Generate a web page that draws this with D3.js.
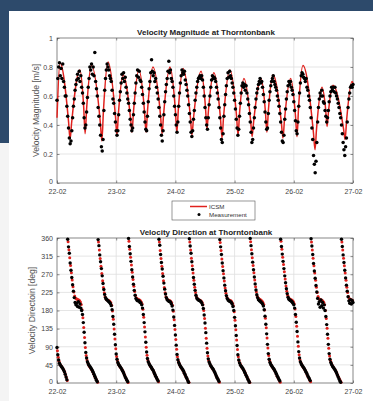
<!DOCTYPE html>
<html>
<head>
<meta charset="utf-8">
<script src="https://cdn.jsdelivr.net/npm/d3@7"></script>
<style>
  html, body { margin: 0; padding: 0; background: #fff; }
  svg { display: block; font-family: "Liberation Sans", Arial, sans-serif; }
</style>
</head>
<body>
<div id="chart"></div>
<script>
// x axis: hours since 22-02 00:00
const dayHours = [0, 24, 48, 72, 96, 120];
const dayLabels = ['22-02', '23-02', '24-02', '25-02', '26-02', '27-02'];
const magTicks = [0, 0.2, 0.4, 0.6, 0.8, 1];
const dirTicks = [0, 45, 90, 135, 180, 225, 270, 315, 360];
const sampleStep = 1 / 3; // 20 min between samples

// ICSM velocity magnitude [hour, m/s]
const icsmMag = [
  [0, 0.45], [1.2, 0.83],
  [4.7, 0.42], [5.3, 0.30], [5.9, 0.41], [9.3, 0.78],
  [10.8, 0.53], [11.4, 0.34], [12.0, 0.51], [14.0, 0.81],
  [17.6, 0.41], [18.2, 0.29], [18.8, 0.49], [20.7, 0.835],
  [23.7, 0.46], [24.3, 0.33], [24.9, 0.48], [26.8, 0.745],
  [29.8, 0.45], [30.4, 0.35], [31.0, 0.49], [33.2, 0.78],
  [35.5, 0.49], [36.1, 0.35], [36.7, 0.50], [38.9, 0.80],
  [42.0, 0.46], [42.6, 0.34], [43.2, 0.47], [45.8, 0.80],
  [48.0, 0.50], [48.6, 0.35], [49.2, 0.51], [51.1, 0.79],
  [54.1, 0.45], [54.7, 0.33], [55.3, 0.44], [58.4, 0.77],
  [60.2, 0.52], [60.8, 0.37], [61.4, 0.50], [63.6, 0.76],
  [66.3, 0.44], [66.9, 0.31], [67.5, 0.45], [70.1, 0.78],
  [72.8, 0.46], [73.4, 0.33], [74.0, 0.48], [75.8, 0.72],
  [78.5, 0.43], [79.1, 0.32], [79.7, 0.42], [82.7, 0.72],
  [84.5, 0.49], [85.1, 0.35], [85.7, 0.50], [87.6, 0.745],
  [91.0, 0.41], [91.6, 0.31], [92.2, 0.43], [94.7, 0.72],
  [96.7, 0.46], [97.3, 0.32], [97.9, 0.51], [99.7, 0.81],
  [104.0, 0.34], [104.6, 0.23], [105.2, 0.37], [107.4, 0.66],
  [108.9, 0.51], [109.5, 0.39], [110.1, 0.50], [111.9, 0.675],
  [116.2, 0.37], [116.8, 0.30], [117.4, 0.43], [119.6, 0.70],
  [120, 0.69]
];

// measured velocity magnitude, every 20 min from 22-02 00:00 [m/s]
const measMag = [
  0.57,0.72,0.80,0.83,0.74,0.79,0.72,0.82,0.70,0.66,
  0.60,0.60,0.53,0.46,0.38,0.31,0.27,0.29,0.36,0.45,
  0.53,0.58,0.64,0.68,0.71,0.75,0.72,0.77,0.70,0.74,
  0.66,0.62,0.55,0.45,0.38,0.40,0.49,0.59,0.66,0.72,
  0.80,0.78,0.82,0.75,0.80,0.74,0.90,0.70,0.65,0.60,
  0.52,0.46,0.40,0.33,0.25,0.22,0.30,0.50,0.64,0.72,
  0.78,0.82,0.80,0.78,0.74,0.72,0.70,0.64,0.58,0.55,
  0.48,0.42,0.36,0.33,0.36,0.47,0.57,0.63,0.69,0.75,
  0.72,0.76,0.70,0.73,0.66,0.62,0.58,0.55,0.50,0.44,
  0.40,0.36,0.38,0.47,0.55,0.62,0.69,0.74,0.78,0.73,
  0.77,0.71,0.70,0.66,0.61,0.55,0.49,0.42,0.37,0.36,
  0.46,0.56,0.65,0.70,0.76,0.85,0.77,0.74,0.76,0.70,
  0.72,0.66,0.62,0.58,0.52,0.46,0.40,0.33,0.29,0.36,
  0.47,0.56,0.63,0.68,0.72,0.77,0.84,0.76,0.78,0.72,
  0.70,0.66,0.60,0.53,0.47,0.40,0.35,0.42,0.53,0.62,
  0.69,0.74,0.78,0.76,0.75,0.77,0.71,0.68,0.64,0.60,
  0.54,0.48,0.42,0.35,0.32,0.36,0.44,0.50,0.57,0.62,
  0.66,0.70,0.72,0.73,0.74,0.72,0.74,0.71,0.66,0.60,
  0.52,0.45,0.40,0.37,0.45,0.54,0.60,0.66,0.71,0.74,
  0.72,0.73,0.72,0.70,0.66,0.62,0.58,0.52,0.45,0.38,
  0.30,0.28,0.34,0.46,0.54,0.61,0.67,0.72,0.76,0.73,
  0.77,0.74,0.72,0.69,0.66,0.62,0.57,0.51,0.44,0.38,
  0.33,0.37,0.46,0.55,0.62,0.67,0.69,0.66,0.68,0.64,
  0.67,0.62,0.58,0.54,0.48,0.42,0.35,0.28,0.30,0.38,
  0.45,0.52,0.58,0.62,0.65,0.68,0.70,0.72,0.69,0.70,
  0.66,0.61,0.56,0.49,0.42,0.37,0.38,0.48,0.57,0.63,
  0.67,0.70,0.72,0.74,0.70,0.68,0.66,0.64,0.60,0.57,
  0.53,0.48,0.42,0.35,0.29,0.28,0.33,0.44,0.51,0.58,
  0.63,0.67,0.70,0.68,0.70,0.66,0.64,0.61,0.56,0.50,
  0.43,0.36,0.34,0.42,0.53,0.62,0.69,0.74,0.76,0.75,
  0.73,0.72,0.70,0.72,0.66,0.64,0.60,0.57,0.52,0.45,
  0.38,0.30,0.19,0.13,0.07,0.15,0.28,0.42,0.52,0.58,
  0.62,0.60,0.64,0.60,0.56,0.55,0.50,0.46,0.42,0.45,
  0.50,0.56,0.60,0.63,0.66,0.64,0.66,0.63,0.66,0.62,
  0.60,0.58,0.55,0.52,0.48,0.45,0.40,0.34,0.28,0.23,
  0.19,0.25,0.31,0.42,0.52,0.58,0.62,0.66,0.67,0.66,0.68
];

// measured direction, every 20 min from 22-02 00:00 [deg]
const measDir = [
  88,70,57,49,45,42,39,36,32,28,22,15,8,
  357,338,322,298,280,262,244,228,212,200,194,198,190,202,188,196,186,180,170,150,126,100,76,62,53,48,44,41,38,35,31,27,22,17,12,7,3,
  356,341,318,301,284,266,247,232,220,212,208,206,204,202,200,197,192,182,165,146,121,95,72,59,51,46,43,40,37,33,29,25,20,15,11,7,3,
  359,339,321,302,281,263,245,230,218,210,206,204,205,203,200,199,194,186,170,150,127,101,77,61,53,48,44,41,38,34,31,26,22,17,13,9,5,
  357,342,319,299,283,265,248,233,221,212,207,205,203,202,201,197,191,181,164,143,119,94,71,58,51,46,42,39,36,33,29,24,20,15,11,6,2,
  358,340,322,301,282,262,245,230,218,211,208,206,205,204,202,199,194,185,169,149,125,99,75,60,52,47,43,40,37,34,30,26,21,16,12,8,4,
  356,338,319,298,279,261,243,229,217,210,206,204,203,202,200,196,190,180,163,142,118,93,70,57,50,45,42,39,36,32,28,24,19,15,10,6,2,
  359,341,321,300,281,263,246,231,219,212,207,205,203,201,199,196,191,182,166,146,122,96,73,59,51,46,43,40,37,34,30,26,22,17,13,9,5,
  357,339,320,302,284,266,249,234,222,213,208,206,205,203,201,198,194,186,170,151,128,102,78,62,53,48,44,41,38,35,31,27,23,18,14,10,6,
  358,340,319,297,278,260,242,226,210,196,202,188,206,192,200,186,194,180,165,145,121,96,73,59,51,46,42,39,36,33,29,25,20,15,10,5,2,
  357,339,318,299,280,261,243,228,214,204,198,207,196,205,200
];

// ICSM direction, every 20 min from 22-02 00:10 [deg]
const icsmDir = [
  80,64,54,47,44,41,38,35,31,26,20,13,6,
  351,331,311,292,274,256,239,226,216,211,209,208,207,206,204,201,195,182,162,138,113,88,68,57,50,45,41,38,35,32,28,23,18,14,10,6,2,
  350,330,309,290,272,254,237,224,214,209,207,206,205,204,202,199,193,179,158,134,109,85,66,55,49,44,41,38,35,32,28,23,18,13,9,5,1,
  352,332,312,293,275,257,240,227,217,211,209,208,207,206,204,201,196,183,163,139,114,89,69,57,51,46,42,39,36,33,29,24,19,15,11,7,3,
  350,329,309,290,272,254,237,224,214,209,207,206,205,204,202,199,193,178,157,133,108,84,65,55,49,44,40,37,34,31,27,22,17,13,9,5,1,
  350,330,310,291,273,255,238,225,215,210,208,207,206,205,203,200,194,180,160,136,111,86,67,56,50,45,41,38,35,32,28,23,18,14,10,6,2,
  349,329,308,289,271,253,236,223,214,209,207,206,205,204,202,198,192,177,156,132,107,83,65,55,49,44,40,37,34,31,27,22,17,13,9,5,1,
  351,331,311,292,274,256,239,226,216,211,209,208,207,205,203,200,195,181,161,137,112,87,68,56,50,45,41,38,35,32,28,23,18,14,10,6,2,
  352,332,312,294,276,258,241,228,218,212,210,208,207,206,204,202,197,184,165,141,116,91,70,58,51,46,42,39,36,33,29,24,19,15,11,7,3,
  350,330,310,291,273,255,238,225,215,210,208,207,206,205,203,200,194,180,160,136,111,86,67,56,50,45,41,38,35,32,28,23,18,14,10,6,2,
  350,330,310,291,273,255,238,225,215,210,208,207,206,205
];

const W = 373, H = 401;
const red = '#e0211d';

const svg = d3.select('#chart').append('svg')
  .attr('width', W)
  .attr('height', H);

// slide background
svg.append('rect').attr('width', W).attr('height', H).attr('fill', '#fff');
svg.append('rect').attr('width', W).attr('height', 11).attr('fill', '#2d4a6b');
svg.append('rect').attr('width', 9).attr('height', 143).attr('fill', '#2d4a6b');
svg.append('rect').attr('y', 143).attr('width', 9).attr('height', H - 143).attr('fill', '#f4f4f4');

const x = d3.scaleLinear().domain([0, 120]).range([57, 353]);

function panel(top, bottom, domain, ticks, title, ylabel, ylabelX) {
  const y = d3.scaleLinear().domain(domain).range([bottom, top]);
  const g = svg.append('g');
  const left = x.range()[0], right = x.range()[1];

  g.append('rect')
    .attr('x', left).attr('y', top)
    .attr('width', right - left).attr('height', bottom - top)
    .attr('fill', '#fff');

  // grid
  g.append('g').selectAll('line').data(ticks.slice(1, -1)).enter().append('line')
    .attr('x1', left).attr('x2', right)
    .attr('y1', d => y(d)).attr('y2', d => y(d))
    .attr('stroke', '#dedede').attr('stroke-width', 0.8);
  g.append('g').selectAll('line').data(dayHours.slice(1, -1)).enter().append('line')
    .attr('y1', top).attr('y2', bottom)
    .attr('x1', d => x(d)).attr('x2', d => x(d))
    .attr('stroke', '#dedede').attr('stroke-width', 0.8);

  // axes, ticks pointing inside
  const xAxis = g.append('g')
    .attr('transform', `translate(0,${bottom})`)
    .call(d3.axisBottom(x).tickValues(dayHours).tickSize(-2.5).tickPadding(6)
      .tickFormat((d, i) => dayLabels[i]));
  const yAxis = g.append('g')
    .attr('transform', `translate(${left},0)`)
    .call(d3.axisLeft(y).tickValues(ticks).tickSize(-2.5).tickPadding(4)
      .tickFormat(d3.format('')));
  g.append('g')
    .attr('transform', `translate(${right},0)`)
    .call(d3.axisRight(y).tickValues(ticks).tickSize(-2.5).tickFormat(''));
  g.append('g')
    .attr('transform', `translate(0,${top})`)
    .call(d3.axisTop(x).tickValues(dayHours).tickSize(-2.5).tickFormat(''));

  g.selectAll('.domain').remove();
  g.selectAll('.tick line').attr('stroke', '#444').attr('stroke-width', 0.6);
  [xAxis, yAxis].forEach(a => a.selectAll('text')
    .attr('fill', '#444').attr('font-size', 7)
    .attr('font-family', '"Liberation Sans", Arial, sans-serif'));
  // lift the lowest y label a little so it clears the date labels
  yAxis.selectAll('.tick text').filter(d => d === domain[0]).attr('dy', '0.1em');

  g.append('rect')
    .attr('x', left).attr('y', top)
    .attr('width', right - left).attr('height', bottom - top)
    .attr('fill', 'none').attr('stroke', '#555').attr('stroke-width', 0.7);

  g.append('text')
    .attr('x', (left + right) / 2 + 1).attr('y', top - 3)
    .attr('text-anchor', 'middle')
    .attr('font-size', 8).attr('font-weight', 'bold').attr('fill', '#222')
    .text(title);

  g.append('text')
    .attr('transform', `translate(${ylabelX},${(top + bottom) / 2}) rotate(-90)`)
    .attr('text-anchor', 'middle')
    .attr('font-size', 8.6).attr('fill', '#555')
    .text(ylabel);

  const plot = svg.append('g');
  return { y, plot };
}

// top panel: magnitude
const mag = panel(38, 183, [0, 1], magTicks, 'Velocity Magnitude at Thorntonbank',
  'Velocity Magnitude [m/s]', 39);

mag.plot.append('path')
  .datum(icsmMag)
  .attr('fill', 'none')
  .attr('stroke', red)
  .attr('stroke-width', 1.5)
  .attr('d', d3.line()
    .curve(d3.curveMonotoneX)
    .x(d => x(d[0]))
    .y(d => mag.y(d[1])));

mag.plot.selectAll('circle').data(measMag).enter().append('circle')
  .attr('cx', (d, i) => x(i * sampleStep))
  .attr('cy', d => mag.y(d))
  .attr('r', 1.75)
  .attr('fill', '#000');

// legend
const lg = svg.append('g');
lg.append('rect').attr('x', 172).attr('y', 201).attr('width', 83).attr('height', 19)
  .attr('fill', '#fff').attr('stroke', '#555').attr('stroke-width', 0.6);
lg.append('line').attr('x1', 190).attr('x2', 207).attr('y1', 206.5).attr('y2', 206.5)
  .attr('stroke', red).attr('stroke-width', 1.5);
lg.append('circle').attr('cx', 199).attr('cy', 214.5).attr('r', 1.5).attr('fill', '#000');
lg.append('text').attr('x', 209).attr('y', 209).attr('font-size', 6.2).attr('fill', '#333').text('ICSM');
lg.append('text').attr('x', 209).attr('y', 217).attr('font-size', 6.2).attr('fill', '#333').text('Measurement');

// bottom panel: direction
const dir = panel(238, 383, [0, 360], dirTicks, 'Velocity Direction at Thorntonbank',
  'Velocity Directoin [deg]', 35);

dir.plot.append('g').selectAll('circle').data(icsmDir).enter().append('circle')
  .attr('cx', (d, i) => x((i + 0.5) * sampleStep))
  .attr('cy', d => dir.y(d))
  .attr('r', 1.5)
  .attr('fill', red);

dir.plot.append('g').selectAll('circle').data(measDir).enter().append('circle')
  .attr('cx', (d, i) => x(i * sampleStep))
  .attr('cy', d => dir.y(d))
  .attr('r', 1.7)
  .attr('fill', '#000');
</script>
</body>
</html>
